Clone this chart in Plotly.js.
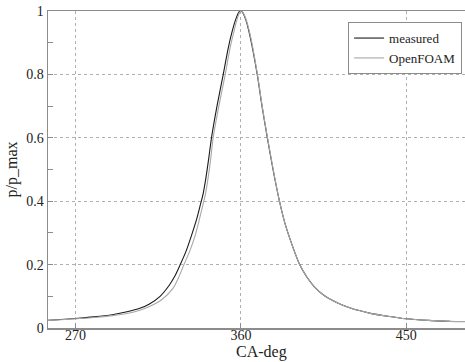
<!DOCTYPE html>
<html>
<head>
<meta charset="utf-8">
<script src="https://cdn.plot.ly/plotly-3.0.1.min.js"></script>
<style>html,body{margin:0;padding:0;background:#fff;}#chart{width:465px;height:362px;}</style>
</head>
<body>
<div id="chart"></div>
<script>
// Measured pressure trace (normalised)
const measuredCA = [255, 262, 270, 280, 290, 298, 305, 310, 316, 321, 324, 327, 330, 333, 336, 338, 339.5, 341, 342.5, 344, 347, 350.4, 353, 355, 357.1, 359, 360, 361, 362.7, 365, 368.9, 371.5, 374.4, 377.5, 381, 384, 388, 392, 396, 400, 405, 413, 420, 430, 440, 450, 462, 474];
const measuredP  = [0.024, 0.027, 0.030, 0.035, 0.042, 0.051, 0.062, 0.075, 0.100, 0.135, 0.163, 0.200, 0.240, 0.290, 0.345, 0.390, 0.425, 0.475, 0.535, 0.600, 0.700, 0.800, 0.880, 0.930, 0.972, 0.997, 1.000, 0.995, 0.972, 0.920, 0.800, 0.700, 0.600, 0.500, 0.400, 0.330, 0.260, 0.200, 0.160, 0.130, 0.104, 0.078, 0.062, 0.047, 0.037, 0.029, 0.024, 0.021];

// OpenFOAM simulation (normalised)
const foamCA = [255, 262, 270, 280, 290, 298, 305, 310, 317, 323, 326, 329, 332, 335, 337.5, 339.4, 340.8, 342.2, 343.6, 344.9, 348, 351.5, 354, 356, 358, 359.5, 360.3, 361.3, 363, 365.3, 369, 371.6, 374.5, 377.6, 381, 384, 388, 392, 396, 400, 405, 413, 420, 430, 440, 450, 462, 474, 482];
const foamP  = [0.024, 0.026, 0.029, 0.033, 0.039, 0.046, 0.056, 0.067, 0.090, 0.125, 0.158, 0.200, 0.240, 0.290, 0.345, 0.390, 0.425, 0.475, 0.535, 0.600, 0.700, 0.800, 0.880, 0.930, 0.975, 0.997, 1.000, 0.994, 0.970, 0.918, 0.800, 0.700, 0.600, 0.500, 0.400, 0.330, 0.260, 0.200, 0.160, 0.130, 0.104, 0.078, 0.062, 0.047, 0.037, 0.029, 0.024, 0.021, 0.020];

const xTicks = [270, 360, 450];
const yTicks = [0, 0.2, 0.4, 0.6, 0.8, 1];
const yTickText = ['0', '0.2', '0.4', '0.6', '0.8', '1'];
const yMinorTicks = [0.1, 0.3, 0.5, 0.7, 0.9];
const xTitle = 'CA-deg';
const yTitle = 'p/p_max';

const serif = "'Liberation Serif', 'Times New Roman', serif";

const traces = [
  {x: measuredCA, y: measuredP, name: 'measured', type: 'scatter', mode: 'lines',
   line: {color: '#1a1a1a', width: 1.1, shape: 'spline', smoothing: 0.8}},
  {x: foamCA, y: foamP, name: 'OpenFOAM', type: 'scatter', mode: 'lines',
   line: {color: '#a8a8a8', width: 1.1, shape: 'spline', smoothing: 0.8}}
];

const axisCommon = {
  showline: true, linecolor: '#8c8c8c', linewidth: 1.5, mirror: true,
  ticks: 'inside', ticklen: 5, tickcolor: '#8c8c8c', tickwidth: 1,
  showgrid: true, gridcolor: '#b0b0b0', griddash: 'dot', gridwidth: 1,
  zeroline: false, tickfont: {family: serif, size: 14, color: '#222'}
};

const layout = {
  width: 465, height: 362,
  margin: {l: 48, r: 0, t: 11, b: 34},
  paper_bgcolor: '#fff', plot_bgcolor: '#fff',
  font: {family: serif, color: '#222'},
  xaxis: Object.assign({}, axisCommon, {
    range: [255, 482], tickmode: 'array', tickvals: xTicks,
    ticklabelstandoff: -6
  }),
  yaxis: Object.assign({}, axisCommon, {
    range: [0, 1], tickmode: 'array', tickvals: yTicks, ticktext: yTickText,
    minor: {tickvals: yMinorTicks, ticks: 'inside', ticklen: 5, tickcolor: '#8c8c8c', showgrid: false},
    title: {text: yTitle, font: {family: serif, size: 16, color: '#222'}, standoff: 4}
  }),
  annotations: [{
    text: xTitle, xref: 'x', x: 371, yref: 'paper', y: 0, yanchor: 'top', yshift: -14,
    borderpad: 0, showarrow: false, font: {family: serif, size: 16, color: '#222'}
  }],
  showlegend: true,
  legend: {x: 0.993, xanchor: 'right', y: 0.965, yanchor: 'top',
    bgcolor: '#fff', bordercolor: '#8c8c8c', borderwidth: 1,
    font: {family: serif, size: 13, color: '#222'}, itemwidth: 30, tracegroupgap: 0}
};

Plotly.newPlot('chart', traces, layout, {displayModeBar: false, staticPlot: true});
</script>
</body>
</html>
